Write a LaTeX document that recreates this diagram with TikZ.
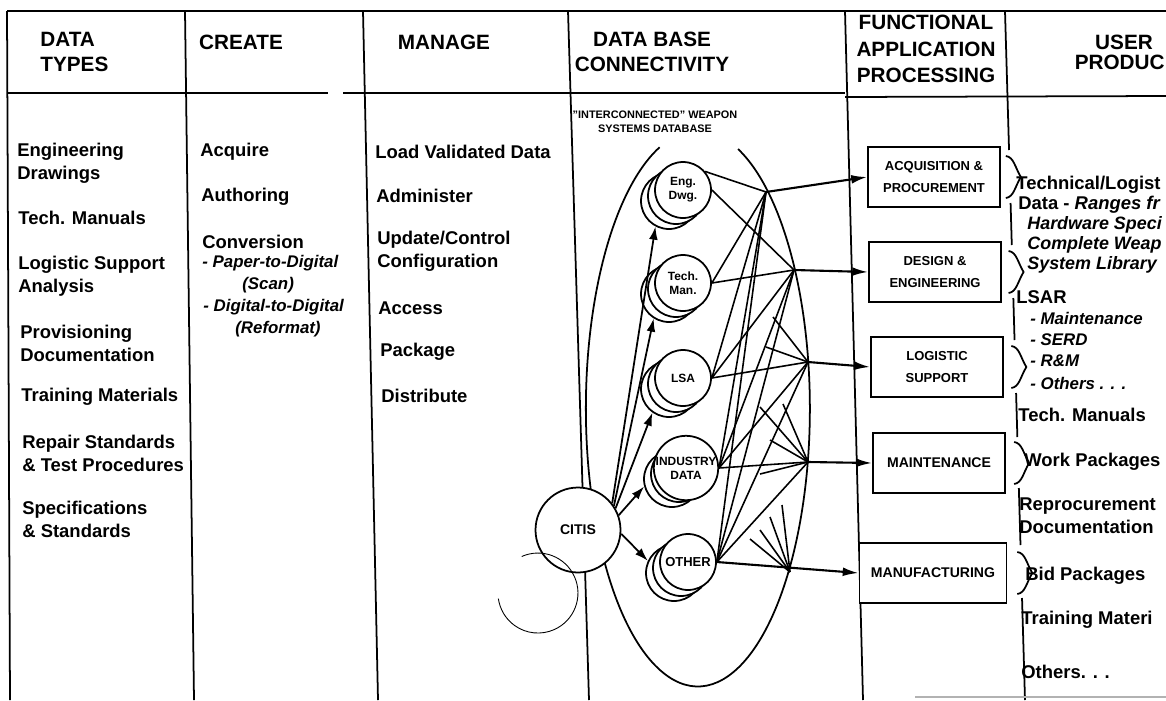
\documentclass[tikz,border=0pt]{standalone}
\usepackage{fontspec}
\setmainfont{Liberation Sans}
\usetikzlibrary{arrows.meta,backgrounds}

\begin{document}
\begin{tikzpicture}[
    x=0.02cm, y=-0.02cm,
    every node/.style={inner sep=0pt},
    head/.style={font=\fontsize{11.8}{14.5}\selectfont\bfseries, align=center},
    item/.style={anchor=west, align=left, font=\fontsize{10.5}{13}\selectfont\bfseries},
    sub/.style={anchor=west, font=\fontsize{9.6}{12}\selectfont\bfseries\itshape},
    rule/.style={line width=1pt},
    fbox/.style={draw, line width=1.1pt, fill=white, align=center,
      minimum width=2.64cm, minimum height=1.2cm,
      font=\fontsize{7.4}{12}\selectfont\bfseries},
    disk/.style={circle, draw, line width=1pt, fill=white, align=center,
      minimum size=1.12cm, font=\fontsize{6.8}{8}\selectfont\bfseries},
    link/.style={line width=0.9pt},
    arr/.style={-{Latex[length=9pt, width=5pt]}, line width=1.2pt},
    feed/.style={-{Latex[length=7.5pt, width=5pt]}, line width=1pt}
  ]
  \useasboundingbox (0,0) rectangle (1166,700);
  \clip (0,0) rectangle (1166,700);
  \begin{pgfonlayer}{background}
    \fill[white] (0,0) rectangle (1166,700);
  \end{pgfonlayer}

  % table rules
  \draw[rule] (7,11) -- (1166,11);
  \draw[rule] (7,11) -- (10,700);
  \draw[rule] (185,11) -- (194,700);
  \draw[rule] (363,11) -- (378,700);
  \draw[rule] (568,11) -- (589,700);
  \draw[rule] (845,11) -- (863,700);
  \draw[rule] (7,93) -- (328,93) (343,93) -- (845,93);
  \draw[rule] (845,97) -- (1166,96);
  \foreach \a/\b in {11/150, 203/245, 298/340, 393/437, 488/545, 598/700}
    \draw[rule] ({1005+0.029*(\a-11)},\a) -- ({1005+0.029*(\b-11)},\b);
  \draw[gray!60, line width=0.6pt] (915,697) -- (1166,697);

  % headings
  \node[head, align=left, anchor=west] (hdata) at (40,52) {DATA\\TYPES};
  \node[head] (hcreate) at (241,42) {CREATE};
  \node[head] (hmanage) at (444,42) {MANAGE};
  \node[head] (hconn) at (652,52) {DATA BASE\\CONNECTIVITY};
  \node[head, font=\fontsize{11.8}{15}\selectfont\bfseries] (hfunc) at (926,49) {FUNCTIONAL\\APPLICATION\\PROCESSING};
  \node[head] (huser) at (1124,42) {USER};
  \node[head, anchor=east] (hprod) at (1165,62) {PRODUC};

  % data types
  \node[item] (dt1) at (17,163) {Engineering\\Drawings};
  \node[item] (dt2) at (18,218) {Tech. Manuals};
  \node[item] (dt3) at (18,276) {Logistic Support\\Analysis};
  \node[item] (dt4) at (20,343) {Provisioning\\Documentation};
  \node[item] (dt5) at (21,397) {Training Materials};
  \node[item] (dt6) at (22,453) {Repair Standards\\\& Test Procedures};
  \node[item] (dt7) at (22,519) {Specifications\\\& Standards};

  % create
  \node[item] (cr1) at (200,152) {Acquire};
  \node[item] (cr2) at (201,197) {Authoring};
  \node[item] (cr3) at (202,242) {Conversion};
  \node[sub] (cr4) at (202,263) {- Paper-to-Digital};
  \node[sub] (cr5) at (242,285) {(Scan)};
  \node[sub] (cr6) at (203,307) {- Digital-to-Digital};
  \node[sub] (cr7) at (235,329) {(Reformat)};

  % manage
  \node[item] (mg1) at (375,152) {Load Validated Data};
  \node[item] (mg2) at (376,196) {Administer};
  \node[item] (mg3) at (377,251) {Update/Control\\Configuration};
  \node[item] (mg4) at (378,308) {Access};
  \node[item] (mg5) at (380,352) {Package};
  \node[item] (mg6) at (381,396) {Distribute};

  % data base connectivity
  \draw[rule] (738,149) arc[start angle=69, end angle=-250, x radius=2.24cm, y radius=5.56cm];
  \node[font=\fontsize{6.2}{8}\selectfont\bfseries, align=center] (dbname) at (655,122)
    {"INTERCONNECTED" WEAPON\\SYSTEMS DATABASE};

  \coordinate (h1) at (766,192);
  \coordinate (h2) at (794,270);
  \coordinate (h3) at (808,362);
  \coordinate (h4) at (808,462);
  \coordinate (h5) at (790,572);

  \node[disk] (engc) at (669,201) {};
  \node[disk] (engb) at (676,196) {};
  \node[disk] (eng) at (683,190) {Eng.\\Dwg.};
  \node[disk] (techc) at (669,294) {};
  \node[disk] (techb) at (676,289) {};
  \node[disk] (tech) at (683,283) {Tech.\\Man.};
  \node[disk] (lsac) at (669,389) {};
  \node[disk] (lsab) at (676,384) {};
  \node[disk] (lsa) at (683,378) {LSA};
  \node[disk] (indc) at (672,479) {};
  \node[disk] (indb) at (679,474) {};
  \node[disk] (ind) at (686,468) {INDUSTRY\\DATA};
  \node[disk] (othc) at (674,573) {};
  \node[disk] (othb) at (681,568) {};
  \node[disk, font=\fontsize{7.4}{8}\selectfont\bfseries] (oth) at (688,562) {OTHER};

  % interconnections, kept under the disks
  \begin{pgfonlayer}{background}
    \draw[link] (eng.40) -- (h1);
    \foreach \d/\hl in {eng/{h2}, tech/{h1,h2}, lsa/{h1,h2,h3},
        ind/{h1,h2,h3,h4}, oth/{h1,h2,h3,h4}}
      \foreach \h in \hl
        \draw[link] (\d.east) -- (\h);
    \foreach \h/\dx/\dy in {h3/-35/-45, h3/-42/-15, h4/-48/-55, h4/-25/-58,
        h4/-38/-22, h4/-48/12, h5/-40/-33, h5/-30/-42, h5/-20/-55, h5/-8/-67}
      \draw[link] (\h) -- ++(\dx,\dy);
  \end{pgfonlayer}

  \node[disk, minimum size=1.7cm, font=\fontsize{8}{9}\selectfont\bfseries] (citis) at (578,530) {CITIS};
  \draw[feed] (citis.38) -- (engc.242);
  \draw[feed] (citis.34) -- (techc.238);
  \draw[feed] (citis.30) -- (lsac.235);
  \draw[feed] (citis.20) -- (indc.195);
  \draw[feed] (citis.-5) -- (othc.155);
  \draw[line width=0.5pt] (521.7,556.5) arc[start angle=114, end angle=-172, radius=0.8cm];

  % functional application processing
  \node[fbox] (acq) at (934,177) {ACQUISITION \&\\PROCUREMENT};
  \node[fbox] (des) at (935,272) {DESIGN \&\\ENGINEERING};
  \node[fbox] (log) at (937,367) {LOGISTIC\\SUPPORT};
  \node[fbox, font=\fontsize{8}{12}\selectfont\bfseries] (mnt) at (939,463) {MAINTENANCE};
  \node[fbox, minimum width=2.94cm, font=\fontsize{8}{12}\selectfont\bfseries] (mfg) at (933,573) {MANUFACTURING};

  \draw[arr] (h1) -- (acq.west);
  \draw[arr] (h2) -- (des.west);
  \draw[arr] (h3) -- (log.west);
  \draw[arr] (h4) -- (mnt.west);
  \draw[arr] (oth.east) -- (mfg.west);

  \foreach \yy in {177,272,367,463,573} {
    \pgfmathsetmacro\bx{1001+0.029*(\yy-11)}
    \draw[rule] (\bx,\yy-21) .. controls (\bx+8,\yy-20) and (\bx+9,\yy-10) .. (\bx+15,\yy)
      .. controls (\bx+9,\yy+10) and (\bx+8,\yy+20) .. (\bx,\yy+21);
  }

  % user products
  \node[item] (up1) at (1016,185) {Technical/Logist};
  \node[item] (up2) at (1018,205) {Data - \itshape Ranges fr};
  \node[sub, font=\fontsize{10.2}{12}\selectfont\bfseries\itshape] (up3) at (1027,225) {Hardware Speci};
  \node[sub, font=\fontsize{10.2}{12}\selectfont\bfseries\itshape] (up4) at (1027,245) {Complete Weap};
  \node[sub, font=\fontsize{10.2}{12}\selectfont\bfseries\itshape] (up5) at (1027,265) {System Library};
  \node[item] (up6) at (1016,297) {LSAR};
  \node[sub] (up7) at (1030,318) {- Maintenance};
  \node[sub] (up8) at (1030,340) {- SERD};
  \node[sub] (up9) at (1030,361) {- R\&M};
  \node[sub] (up10) at (1030,383) {- Others . . .};
  \node[item] (up11) at (1018,415) {Tech. Manuals};
  \node[item] (up12) at (1024,462) {Work Packages};
  \node[item] (up13) at (1019,516) {Reprocurement\\Documentation};
  \node[item] (up14) at (1025,576) {Bid Packages};
  \node[item] (up15) at (1021,620) {Training Materi};
  \node[item] (up16) at (1021,672) {Others. . .};
\end{tikzpicture}
\end{document}
